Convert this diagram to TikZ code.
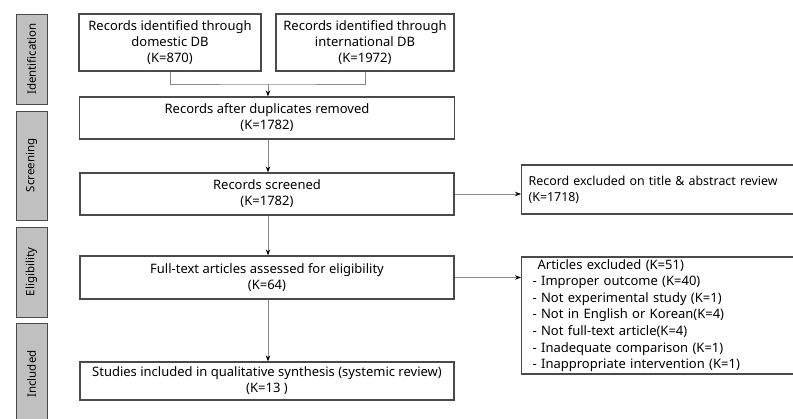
\documentclass[tikz,border=0pt]{standalone}
\usepackage{fontspec}
\setmainfont{Noto Sans}
\usepackage{xcolor}
\usetikzlibrary{arrows.meta}
\definecolor{barfill}{HTML}{C0C0C0}
\definecolor{boxline}{HTML}{4A4A4A}
\definecolor{linkline}{HTML}{8A8A8A}

\begin{document}
\begin{tikzpicture}[x=1pt, y=-1pt, font=\fontsize{13}{16}\selectfont, >={Stealth[length=6pt,width=4.5pt,color=black]},
  stagebar/.style={draw=boxline, fill=barfill, line width=1pt, rotate=90, minimum height=31pt, inner sep=0pt, font=\fontsize{11.5}{13}\selectfont},
  flowbox/.style={draw=boxline, line width=1.2pt, align=center, inner sep=2pt},
  sidebox/.style={draw=boxline, line width=1.2pt, align=left, anchor=west, inner ysep=2pt},
  link/.style={draw=linkline, line width=0.9pt}]
\useasboundingbox (0,0) rectangle (793,418);
\clip (0,0) rectangle (793,418);
% stage bars on the left
\foreach \y/\h/\name in {59/90/Identification, 165.5/109/Screening, 272/90/Eligibility, 374/102/Included}{
  \node[stagebar, minimum width=\h pt] (s\name) at (31.5,\y) {\name};
}
% main column
\node[flowbox, minimum width=182pt, minimum height=57pt] (dom) at (170,42.5) {Records identified through\\domestic DB\\(K=870)};
\node[flowbox, minimum width=178pt, minimum height=57pt] (intl) at (365,42.5) {Records identified through\\international DB\\(K=1972)};
\node[flowbox, minimum width=375pt, minimum height=42pt] (dup) at (267,118) {Records after duplicates removed\\(K=1782)};
\node[flowbox, minimum width=374pt, minimum height=42pt] (scr) at (267,194) {Records screened\\(K=1782)};
\node[flowbox, minimum width=374pt, minimum height=43pt] (full) at (267,277.5) {Full-text articles assessed for eligibility\\(K=64)};
\node[flowbox, minimum width=374pt, minimum height=38pt] (incl) at (267,381) {Studies included in qualitative synthesis (systemic review)\\(K=13 )};
% exclusions
\node[sidebox, text width=300pt, inner xsep=7pt, minimum height=49pt, font=\fontsize{12.4}{16}\selectfont] (ex1) at (521,189.5) {Record excluded on title \& abstract review\\(K=1718)};
\node[sidebox, text width=300pt, inner xsep=11pt, minimum height=117pt, font=\fontsize{13}{16.6}\selectfont] (ex2) at (521,315.5)
  {\hspace*{5pt}Articles excluded (K=51)\\- Improper outcome (K=40)\\- Not experimental study (K=1)\\- Not in English or Korean(K=4)\\- Not full-text article(K=4)\\- Inadequate comparison (K=1)\\- Inappropriate intervention (K=1)};
% connectors
\coordinate (join) at (268,84);
\draw[link] (dom.south) |- (join) -| (intl.south);
\draw[link, ->] (join) -- (join |- dup.north);
\draw[link, ->] (join |- dup.south) -- (join |- scr.north);
\draw[link, ->] (join |- scr.south) -- (join |- full.north);
\draw[link, ->] (join |- full.south) -- (join |- incl.north);
\draw[link, ->] (scr.east) -- (scr.east -| ex1.west);
\draw[link, ->] (full.east) -- (full.east -| ex2.west);
\end{tikzpicture}
\end{document}
